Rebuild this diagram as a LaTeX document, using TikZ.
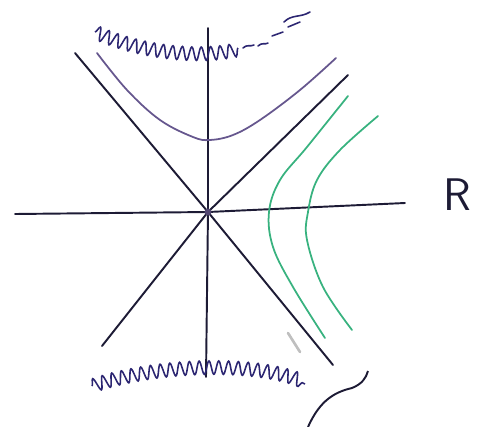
\documentclass[tikz,border=0pt]{standalone}
\usepackage{tikz}
\usetikzlibrary{decorations.pathmorphing}
\usepackage{xcolor}
\definecolor{inkblack}{HTML}{1d1b35}
\definecolor{inkpurple}{HTML}{66578e}
\definecolor{inkgreen}{HTML}{38b27f}
\definecolor{inkblue}{HTML}{2c2672}

\begin{document}
\begin{tikzpicture}[x=0.02cm, y=-0.02cm,
    axisline/.style={inkblack, line width=1.1pt, line cap=round},
    hypline/.style={#1, line width=1pt, line cap=round},
    squig/.style={inkblue, line width=0.9pt, decorate,
                  decoration={snake, amplitude=3.8pt, segment length=5.5pt}},
    dashmark/.style={inkblue, line width=0.9pt, line cap=round}
  ]
    \useasboundingbox (0,0) rectangle (478,427);

    % origin and ends of the lines
    \coordinate (O)  at (208,212);
    \coordinate (vt) at (208,28);
    \coordinate (vb) at (206,377);
    \coordinate (hl) at (15,214);
    \coordinate (hr) at (405,203);
    \coordinate (dtl) at (75,53);
    \coordinate (dbr) at (333,365);
    \coordinate (dtr) at (348,75);
    \coordinate (dbl) at (102,346);

    \draw[axisline] (vt) -- (O) -- (vb);
    \draw[axisline] (hl) -- (O) -- (hr);
    \draw[axisline] (dtl) -- (O) -- (dbr);
    \draw[axisline] (dtr) -- (O) -- (dbl);
    \fill[inkpurple!80!black] (O) circle (3.5);

    % hyperbola above
    \draw[hypline=inkpurple] plot[smooth, tension=0.6] coordinates
      {(97,53) (127,90) (160,120) (193,137) (210,140) (233,135)
       (260,120) (300,90) (336,58)};

    % hyperbolae on the right
    \draw[hypline=inkgreen] plot[smooth, tension=0.6] coordinates
      {(348,96) (307,147) (280,180) (269,212) (273,247) (293,287) (325,338)};
    \draw[hypline=inkgreen] plot[smooth, tension=0.6] coordinates
      {(378,116) (340,150) (317,180) (308,212) (307,240) (323,287) (352,330)};

    \node[font=\fontsize{26}{26}\selectfont\sffamily, inkblack] (R) at (457,195) {R};

    % horizons
    \draw[squig] (95,32) .. controls (140,52) and (200,58) .. (238,48);
    \draw[dashmark] (243,48) .. controls (247,44) and (250,47) .. (254,45);
    \draw[dashmark] (258,46) .. controls (262,42) and (265,45) .. (268,43);
    \draw[dashmark] (272,36) -- (283,32);
    \draw[dashmark] (284,22) .. controls (292,14) and (300,18) .. (310,12);
    \draw[dashmark] (288,27) -- (300,22);

    \draw[squig] (92,386) .. controls (150,366) and (255,360) .. (305,384);

    \draw[inkblack, line width=1.1pt] (308,427) .. controls (320,400) and (335,392) .. (352,388)
      .. controls (362,384) and (366,378) .. (368,371);

    \draw[gray!50, line width=1.5pt, line cap=round] (288,333) -- (300,352);
\end{tikzpicture}
\end{document}
